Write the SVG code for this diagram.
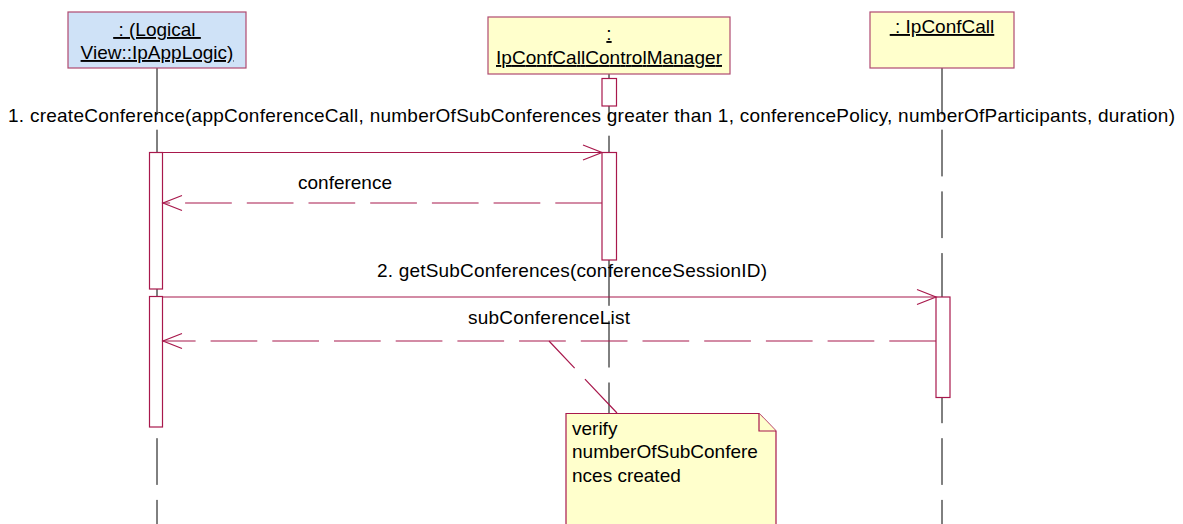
<svg xmlns="http://www.w3.org/2000/svg" width="1183" height="524" viewBox="0 0 1183 524">
<style>
text{font-family:"Liberation Sans",Arial,sans-serif;font-size:19px;fill:#000}
.u{text-decoration:underline}
.box{stroke:#b04a70;stroke-width:1.2}
.life{stroke:#000;stroke-width:1;stroke-dasharray:46.7 15;fill:none}
.act{fill:#fff;stroke:#a8184c;stroke-width:1.2}
.msg{stroke:#a8184c;stroke-width:1.2;fill:none}
.ret{stroke:#a8184c;stroke-width:1.2;fill:none;stroke-dasharray:46.7 15}
.head{stroke:#a8184c;stroke-width:1.2;fill:none}
.note{fill:#ffffcc;stroke:#a8184c;stroke-width:1.2}
</style>
<rect width="1183" height="524" fill="#fff"/>
<g id="lifelines">
<line class="life" x1="157" y1="68" x2="157" y2="524"/>
<line class="life" x1="609" y1="74" x2="609" y2="524"/>
<line class="life" x1="942" y1="68" x2="942" y2="524"/>
</g>
<g id="appLogic">
<rect class="box" x="68" y="12" width="178" height="56" fill="#cfe2f7"/>
<text class="u" x="157" y="36" text-anchor="middle" xml:space="preserve"> : (Logical </text>
<text class="u" x="157" y="59" text-anchor="middle">View::IpAppLogic)</text>
<rect class="act" x="149.5" y="152.5" width="13" height="136.5"/>
<rect class="act" x="149.5" y="296.5" width="13" height="130.5"/>
</g>
<g id="manager">
<rect class="box" x="488" y="17" width="242" height="57" fill="#ffffcc"/>
<text class="u" x="609" y="40" text-anchor="middle">:</text>
<text class="u" x="609" y="64" text-anchor="middle" textLength="226">IpConfCallControlManager</text>
<rect class="act" x="602" y="78.5" width="14.5" height="27.5"/>
<rect class="act" x="602" y="152.5" width="14.5" height="107.5"/>
</g>
<g id="confCall">
<rect class="box" x="870" y="12" width="144" height="56" fill="#ffffcc"/>
<text class="u" x="942" y="33" text-anchor="middle" xml:space="preserve"> : IpConfCall</text>
<rect class="act" x="936" y="297" width="14" height="100.5"/>
</g>
<g id="connectors">
<line class="msg" x1="162.5" y1="152.5" x2="602" y2="152.5"/>
<polyline class="head" points="583,145 602,152.5 583,160"/>
<text x="8" y="122" textLength="1167">1. createConference(appConferenceCall, numberOfSubConferences greater than 1, conferencePolicy, numberOfParticipants, duration)</text>
<line class="ret" x1="602" y1="203" x2="163" y2="203"/>
<polyline class="head" points="182,195.5 163,203 182,210.5"/>
<text x="298" y="189" textLength="94">conference</text>
<line class="msg" x1="162.5" y1="297" x2="936" y2="297"/>
<polyline class="head" points="917,289.5 936,297 917,304.5"/>
<text x="377" y="277" textLength="390">2. getSubConferences(conferenceSessionID)</text>
<line class="ret" x1="936" y1="341" x2="163" y2="341"/>
<polyline class="head" points="182,333.5 163,341 182,348.5"/>
<text x="468" y="324" textLength="162">subConferenceList</text>
<line class="ret" x1="617" y1="413" x2="549" y2="341"/>
</g>
<g id="note">
<path class="note" d="M566,530 L566,413.5 L759,413.5 L776,431 L776,530 Z"/>
<path class="note" d="M759,413.5 L759,431 L776,431" fill="none"/>
<text x="572" y="435">verify</text>
<text x="572" y="458">numberOfSubConfere</text>
<text x="572" y="482">nces created</text>
</g>
</svg>
